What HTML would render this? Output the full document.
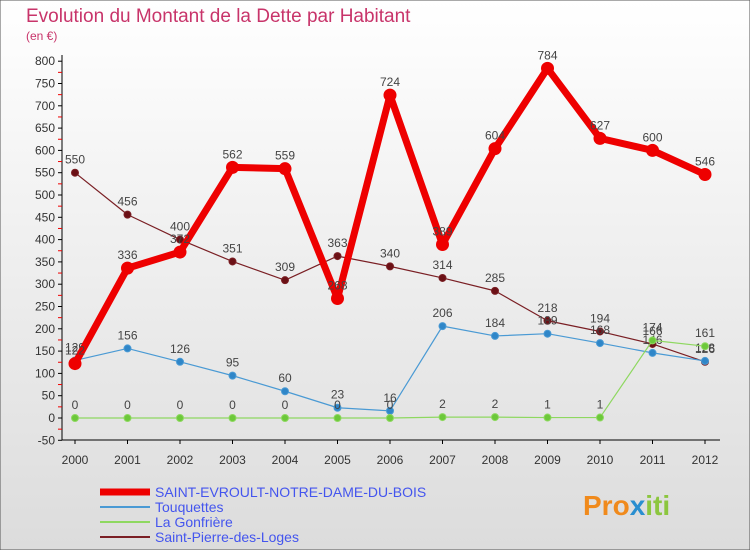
<!DOCTYPE html>
<html><head><meta charset="utf-8"><style>
body{margin:0;width:750px;height:550px;overflow:hidden;font-family:"Liberation Sans",sans-serif}
svg{display:block}
</style></head><body>
<svg width="750" height="550" xmlns="http://www.w3.org/2000/svg">
<defs><linearGradient id="bg" x1="0" y1="0" x2="0" y2="1"><stop offset="0" stop-color="#ffffff"/><stop offset="1" stop-color="#dcdcdc"/></linearGradient></defs>
<rect x="0" y="0" width="750" height="550" fill="url(#bg)" stroke="#555"/>
<text x="26" y="22" font-size="19" fill="#c8346a">Evolution du Montant de la Dette par Habitant</text>
<text x="26" y="40" font-size="12" fill="#c8346a">(en €)</text>
<g id="axes"></g>
<g id="series"></g>
<g id="legend"></g>
<text x="583" y="515" font-size="28" font-weight="bold" fill="#f08a1c">Pro<tspan fill="#2a8fd0">x</tspan><tspan fill="#8cc63f">iti</tspan></text>
</svg>
<script>
const years=[2000,2001,2002,2003,2004,2005,2006,2007,2008,2009,2010,2011,2012];
const yTicks=[-50,0,50,100,150,200,250,300,350,400,450,500,550,600,650,700,750,800];
const saintEvroult=[122,336,372,562,559,268,724,389,604,784,627,600,546];
const touquettes=[129,156,126,95,60,23,16,206,184,189,168,146,128];
const gonfriere=[0,0,0,0,0,0,0,2,2,1,1,174,161];
const saintPierre=[550,456,400,351,309,363,340,314,285,218,194,166,126];
const NS="http://www.w3.org/2000/svg";
const X=i=>75+i*52.5;
const Y=v=>418-v*0.446;
function mk(tag,attrs,parent){const e=document.createElementNS(NS,tag);for(const k in attrs)e.setAttribute(k,attrs[k]);parent.appendChild(e);return e;}
const axes=document.getElementById('axes');
const yAxis=mk('line',{x1:62,y1:55,x2:62,y2:440,stroke:'#000'},axes);


const xAxis=mk('line',{x1:62,y1:440,x2:720,y2:440,stroke:'#000'},axes);


yTicks.forEach(v=>{
 mk('line',{x1:58,y1:Y(v),x2:62,y2:Y(v),stroke:'#000'},axes);
 if(v<800)mk('line',{x1:58,y1:Y(v+25),x2:62,y2:Y(v+25),stroke:'#e00'},axes);
 const t=mk('text',{x:55,y:Y(v)+4,'font-size':12,'text-anchor':'end',fill:'#333'},axes);
 t.textContent=v;
 
 
});
years.forEach((y,i)=>{
 mk('line',{x1:X(i),y1:440,x2:X(i),y2:444,stroke:'#000'},axes);
 const t=mk('text',{x:X(i),y:464,'font-size':12,'text-anchor':'middle',fill:'#333'},axes);
 t.textContent=y;
 
 
});
const series=document.getElementById('series');
function draw(data,color,w,r,name,dot){
 const g=mk('g',{},series);
 
 
 mk('polyline',{points:data.map((v,i)=>X(i)+','+Y(v)).join(' '),fill:'none',stroke:color,'stroke-width':w,'stroke-linejoin':'round'},g);
 data.forEach((v,i)=>{
  const c=mk('circle',{cx:X(i),cy:Y(v),r:r,fill:dot,stroke:color,'stroke-width':1},g);
  
  
  const t=mk('text',{x:X(i),y:Y(v)-9,'font-size':12,'text-anchor':'middle',fill:'#444'},g);
  t.textContent=v;
  
  
 });
}
draw(saintPierre,'#7a1f24',1.2,3.5,'saint-pierre-series','#6b1015');
draw(touquettes,'#4a9ad4',1.2,3.5,'touquettes-series','#2f86c8');
draw(gonfriere,'#8ed860',1.2,3.5,'gonfriere-series','#6cc83a');
draw(saintEvroult,'#ee0000',7,6,'saint-evroult-series','#ee0000');
const legend=document.getElementById('legend');
[['SAINT-EVROULT-NOTRE-DAME-DU-BOIS','#ee0000',7],['Touquettes','#4a9ad4',2],['La Gonfrière','#8ed860',2],['Saint-Pierre-des-Loges','#7a1f24',2]].forEach((e,i)=>{
 const yy=492+i*15;
 const g=mk('g',{},legend);
 
 
 mk('line',{x1:100,y1:yy,x2:150,y2:yy,stroke:e[1],'stroke-width':e[2]},g);
 const t=mk('text',{x:155,y:yy+5,'font-size':14,fill:'#4455ee'},g);
 t.textContent=e[0];
});
</script>
</body></html>
